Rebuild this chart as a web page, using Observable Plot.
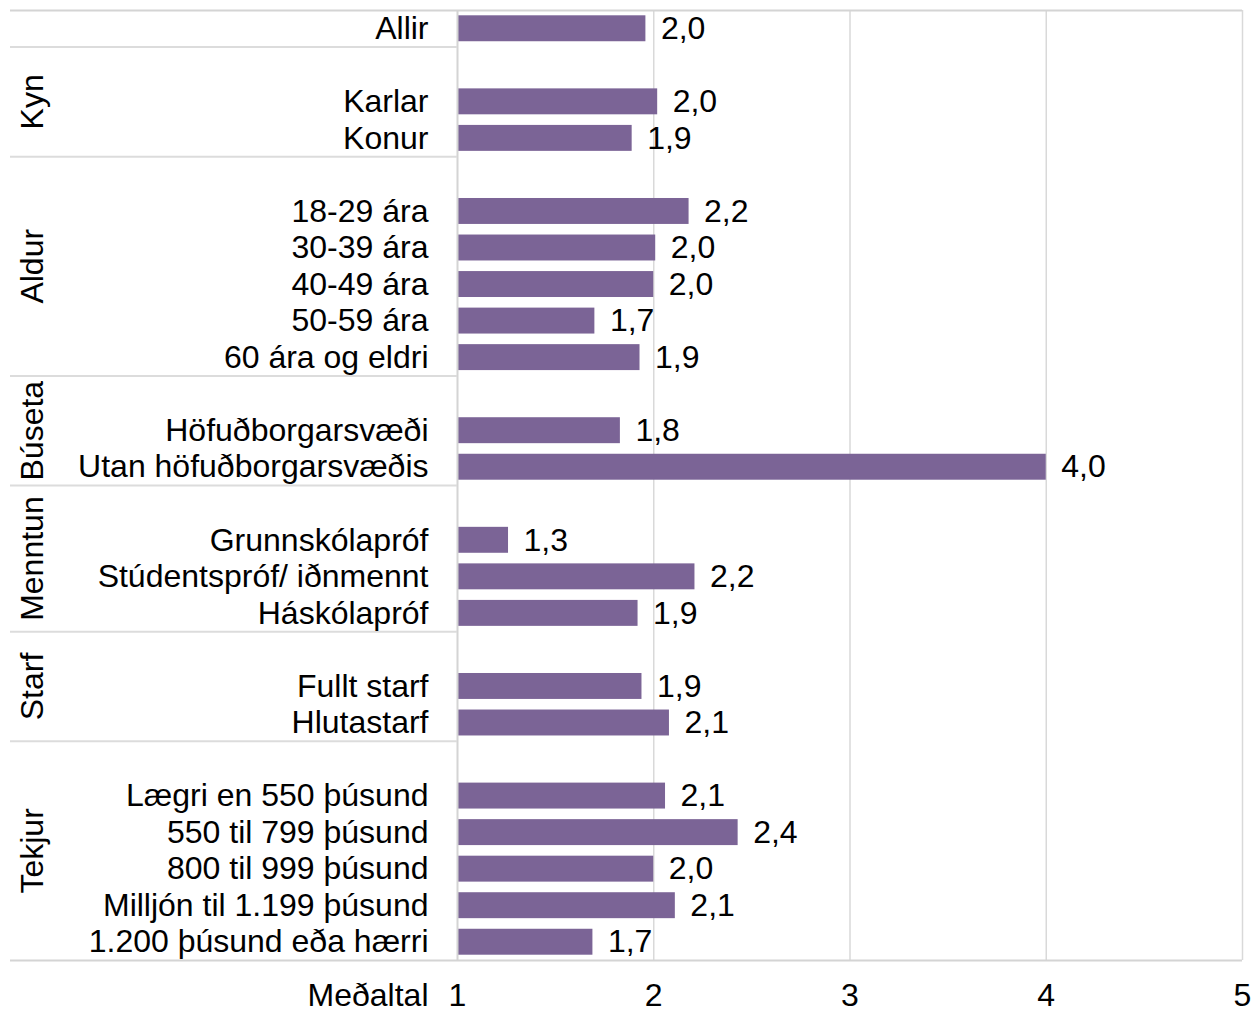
<!DOCTYPE html>
<html>
<head>
<meta charset="utf-8">
<script src="https://cdn.jsdelivr.net/npm/d3@7"></script>
<script src="https://cdn.jsdelivr.net/npm/@observablehq/plot@0.6"></script>
<style>
  html, body { margin: 0; padding: 0; background: #fff; }
  #chart svg { display: block; }
</style>
</head>
<body>
<div id="chart"></div>
<script>
// ---- data ----
const categories = ["Allir","Karlar","Konur","18-29 ára","30-39 ára","40-49 ára","50-59 ára","60 ára og eldri","Höfuðborgarsvæði","Utan höfuðborgarsvæðis","Grunnskólapróf","Stúdentspróf/ iðnmennt","Háskólapróf","Fullt starf","Hlutastarf","Lægri en 550 þúsund","550 til 799 þúsund","800 til 999 þúsund","Milljón til 1.199 þúsund","1.200 þúsund eða hærri"];
const groups = ["","Kyn","Kyn","Aldur","Aldur","Aldur","Aldur","Aldur","Búseta","Búseta","Menntun","Menntun","Menntun","Starf","Starf","Tekjur","Tekjur","Tekjur","Tekjur","Tekjur"];
const values = [1.96,2.02,1.89,2.18,2.01,2.00,1.70,1.93,1.83,4.00,1.26,2.21,1.92,1.94,2.08,2.06,2.43,2.00,2.11,1.69];
const xTicks = [1,2,3,4,5];
const axisTitle = "Meðaltal";

// ---- layout rows (blank row before each new group) ----
const rows = [];
const separators = [];
const groupSpans = [];
let idx = 0;
categories.forEach((c, i) => {
  if (i > 0 && groups[i] !== groups[i - 1]) {
    separators.push(idx - 0.5);
    groupSpans.push({group: groups[i], start: idx - 0.5});
    idx++;
  }
  rows.push({label: c, group: groups[i], value: values[i], row: idx});
  idx++;
});
const nRows = idx;
groupSpans.forEach((g, k) => {
  g.end = k + 1 < groupSpans.length ? groupSpans[k + 1].start : nRows - 0.5;
  g.mid = (g.start + g.end) / 2;
});

const W = 1255, H = 1028;
const mL = 10, mR = 13, mT = 10, mB = 68;
const pxPerUnit = (W - mL - mR - 447) / 4; // 4 units from 1 to 5
const xMin = 1 - 447 / pxPerUnit;
const half = 0.355;
const font = "'Liberation Sans', Arial, Helvetica, sans-serif";
const fs = 32;
const fmt = v => v.toFixed(1).replace(".", ",");

const chart = Plot.plot({
  width: W,
  height: H,
  marginLeft: mL,
  marginRight: mR,
  marginTop: mT,
  marginBottom: mB,
  style: {fontFamily: font, fontSize: fs + "px", color: "#000", background: "#fff"},
  x: {domain: [xMin, 5], axis: null},
  y: {domain: [-0.5, nRows - 0.5], reverse: true, axis: null},
  marks: [
    // vertical gridlines 2..5
    Plot.ruleX(xTicks.slice(1), {y1: -0.5, y2: nRows - 0.5, stroke: "#d9d9d9", strokeWidth: 1.5}),
    // bars
    Plot.rectX(rows, {x1: 1, x2: "value", y1: d => d.row - half, y2: d => d.row + half, fill: "#7b6496"}),
    // axis line at 1
    Plot.ruleX([1], {y1: -0.5, y2: nRows - 0.5, stroke: "#d4d4d4", strokeWidth: 2}),
    // group separators in label area
    Plot.ruleY(separators, {x1: xMin, x2: 1, stroke: "#dcdcdc", strokeWidth: 2}),
    // top and bottom borders
    Plot.ruleY([-0.5, nRows - 0.5], {x1: xMin, x2: 5, stroke: "#d4d4d4", strokeWidth: 2}),
    // category labels
    Plot.text(rows, {x: 1, y: "row", text: "label", textAnchor: "end", dx: -29, fontSize: fs, fill: "#000"}),
    // value labels
    Plot.text(rows, {x: "value", y: "row", text: d => fmt(d.value), textAnchor: "start", dx: 15, fontSize: fs, fill: "#000"}),
    // group labels (rotated)
    Plot.text(groupSpans, {x: xMin, y: "mid", text: "group", rotate: -90, dx: 22, fontSize: fs, fill: "#000"}),
    // x tick labels
    Plot.text(xTicks, {x: d => d, y: nRows - 0.5, text: d => String(d), dy: 35, fontSize: fs, fill: "#000"}),
    // axis title
    Plot.text([axisTitle], {x: 1, y: nRows - 0.5, text: d => d, textAnchor: "end", dx: -29, dy: 35, fontSize: fs, fill: "#000"})
  ]
});
document.getElementById("chart").appendChild(chart);
</script>
</body>
</html>
